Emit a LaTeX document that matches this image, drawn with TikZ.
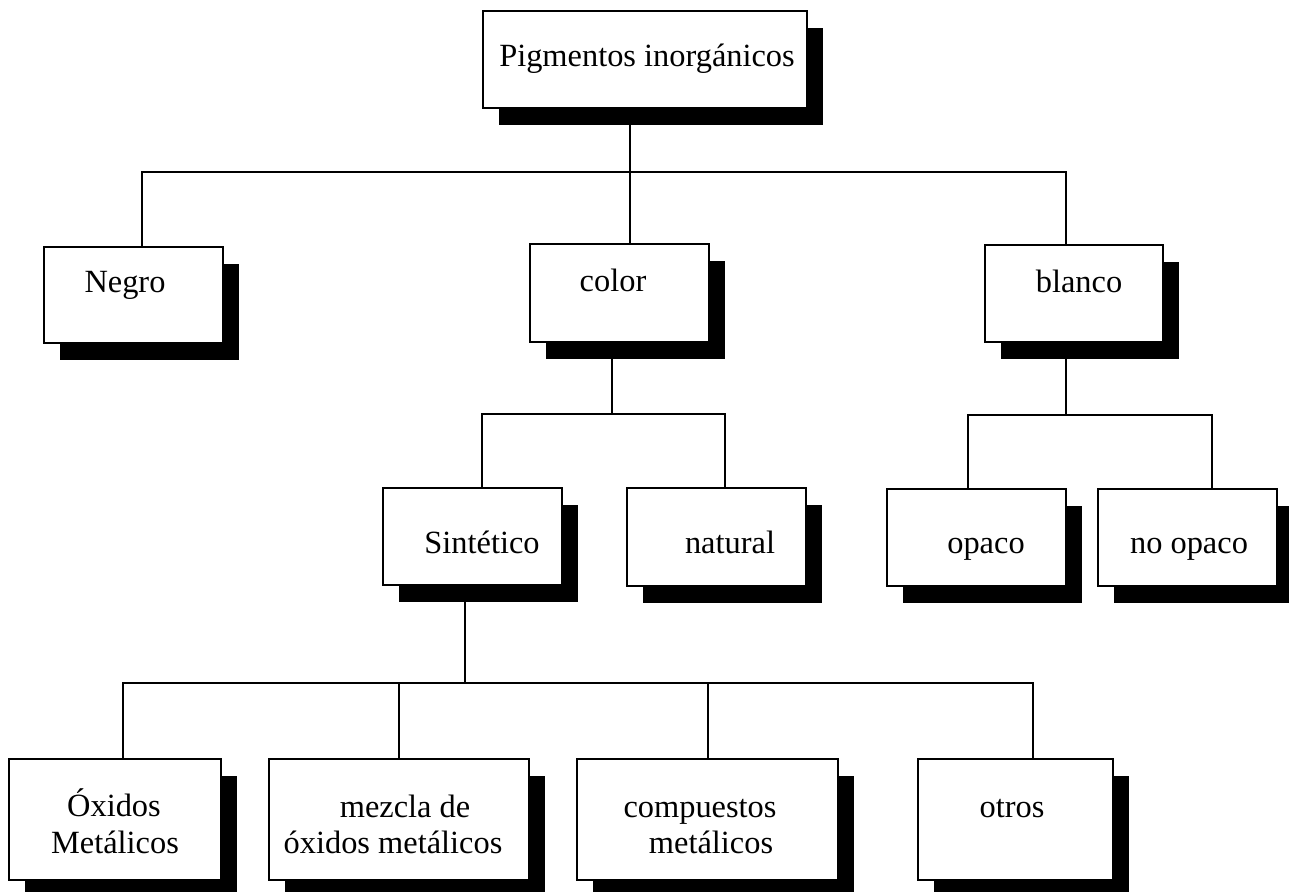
\documentclass[tikz,border=0pt]{standalone}
\usepackage{fontspec}
\setmainfont{Liberation Serif}
\usetikzlibrary{shadows}
\begin{document}
\begin{tikzpicture}[x=0.5pt,y=-0.5pt,
  box/.style={draw, fill=white, line width=1pt, inner sep=0pt, outer sep=0pt,
    general shadow={fill=black, shadow xshift=8pt, shadow yshift=-8.5pt}},
  txt/.style={anchor=base, inner sep=0pt, font=\fontsize{16.2}{18}\selectfont},
  conn/.style={line width=0.9pt}]
\useasboundingbox (0,0) rectangle (1289,892);
\clip (0,0) rectangle (1289,892);
\fill[white] (0,0) rectangle (1289,892);

% boxes
\node[box, minimum width=162pt, minimum height=48.5pt] (top) at (645,59.5) {};
\node[box, minimum width=89.5pt, minimum height=48pt] (negro) at (133.5,295) {};
\node[box, minimum width=89.5pt, minimum height=49pt] (color) at (619.5,293) {};
\node[box, minimum width=89pt, minimum height=48.5pt] (blanco) at (1074,293.5) {};
\node[box, minimum width=89.5pt, minimum height=48.5pt] (sint) at (472.5,536.5) {};
\node[box, minimum width=89.5pt, minimum height=49pt] (natural) at (716.5,537) {};
\node[box, minimum width=89.5pt, minimum height=48.5pt] (opaco) at (976.5,537.5) {};
\node[box, minimum width=89.5pt, minimum height=48.5pt] (noopaco) at (1187.5,537.5) {};
\node[box, minimum width=106pt, minimum height=60.5pt] (oxidos) at (115,819.5) {};
\node[box, minimum width=130pt, minimum height=60.5pt] (mezcla) at (399,819.5) {};
\node[box, minimum width=130.5pt, minimum height=60.5pt] (compuestos) at (707.5,819.5) {};
\node[box, minimum width=97.5pt, minimum height=60.5pt] (otros) at (1015.5,819.5) {};

% texts
\node[txt] (tTop) at (647,67) {Pigmentos inorgánicos};
\node[txt] (tNegro) at (125,293) {Negro};
\node[txt] (tColor) at (613,292) {color};
\node[txt] (tBlanco) at (1079,293) {blanco};
\node[txt] (tSint) at (482,553) {Sintético};
\node[txt] (tNatural) at (730,553) {natural};
\node[txt] (tOpaco) at (986,553) {opaco};
\node[txt] (tNoOpaco) at (1189,553) {no opaco};
\node[txt] (tOx1) at (114,816) {Óxidos};
\node[txt] (tOx2) at (115,853) {Metálicos};
\node[txt] (tMz1) at (405,817) {mezcla de};
\node[txt] (tMz2) at (393,853) {óxidos metálicos};
\node[txt] (tCp1) at (700,817) {compuestos};
\node[txt] (tCp2) at (711,853) {metálicos};
\node[txt] (tOt) at (1012,817) {otros};

% junction coordinates
\coordinate (j0) at (630,172);
\coordinate (j1) at (142,172);
\coordinate (j3) at (1066,172);
\coordinate (c0) at (612,414);
\coordinate (c1) at (482,414);
\coordinate (c2) at (725,414);
\coordinate (b0) at (1066,415);
\coordinate (b1) at (968,415);
\coordinate (b2) at (1212,415);
\coordinate (s0) at (465,683);
\coordinate (s1) at (123,683);
\coordinate (s2) at (399,683);
\coordinate (s3) at (708,683);
\coordinate (s4) at (1033,683);

% connectors
\draw[conn] (top.south -| j0) -- (j0) -- (color.north -| j0);
\draw[conn] (negro.north -| j1) -- (j1) -- (j3) -- (blanco.north -| j3);
\draw[conn] (color.south -| c0) -- (c0);
\draw[conn] (sint.north -| c1) -- (c1) -- (c2) -- (natural.north -| c2);
\draw[conn] (blanco.south -| b0) -- (b0);
\draw[conn] (opaco.north -| b1) -- (b1) -- (b2) -- (noopaco.north -| b2);
\draw[conn] (sint.south -| s0) -- (s0);
\draw[conn] (oxidos.north -| s1) -- (s1) -- (s4) -- (otros.north -| s4);
\draw[conn] (s2) -- (mezcla.north -| s2);
\draw[conn] (s3) -- (compuestos.north -| s3);
\end{tikzpicture}
\end{document}
